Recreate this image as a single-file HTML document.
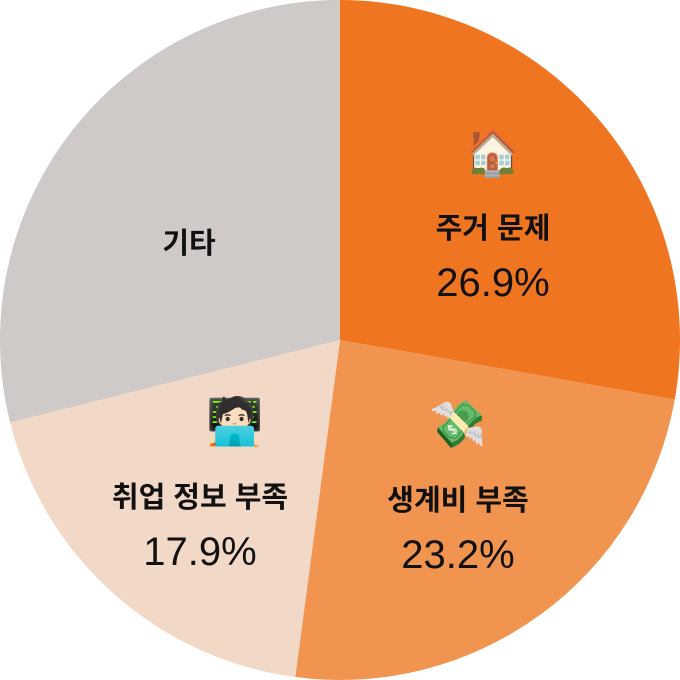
<!DOCTYPE html>
<html><head><meta charset="utf-8"><style>
html,body{margin:0;padding:0;background:#fff;width:680px;height:680px;overflow:hidden}
svg text{font-family:"Liberation Sans","Noto Sans CJK KR",sans-serif;fill:#111;text-anchor:middle}
</style></head><body>
<svg id="chart" width="680" height="680" viewBox="0 0 680 680"></svg>
<script>
const categories = ["주거 문제", "생계비 부족", "취업 정보 부족", "기타"];
const values = [27.8, 24.3, 19.0, 28.9];
const valueLabels = ["26.9%", "23.2%", "17.9%", ""];
const emojis = ["🏠", "💸", "🧑🏻‍💻", ""];
const colors = ["#F07520", "#F09450", "#F2D8C6", "#CFC9C7"];
const labelPos = [[493,228],[458,500],[200,497],[189,243]];
const emojiDx = [0, 0, 35, 0];
const NS = "http://www.w3.org/2000/svg";
const svg = document.getElementById("chart");
const cx = 340, cy = 340, R = 340;
const total = values.reduce((a,b)=>a+b,0);
function pt(frac){const a = frac*2*Math.PI; return [cx+R*Math.sin(a), cy-R*Math.cos(a)];}
let acc = 0;
values.forEach((v,i)=>{
  const s = acc/total, e = (acc+v)/total; acc += v;
  const [x1,y1] = pt(s), [x2,y2] = pt(e);
  const large = (e-s) > 0.5 ? 1 : 0;
  const p = document.createElementNS(NS,"path");
  p.setAttribute("d",`M${cx},${cy} L${x1},${y1} A${R},${R} 0 ${large} 1 ${x2},${y2} Z`);
  p.setAttribute("fill",colors[i]);
  
  
  svg.appendChild(p);
});
values.forEach((v,i)=>{
  const [lx,ly] = labelPos[i];
  if(emojis[i]){
    const em = document.createElementNS(NS,"text");
    em.setAttribute("x",lx+emojiDx[i]); em.setAttribute("y",ly-60);
    em.setAttribute("font-size","46");
    em.textContent = emojis[i];
    
    
    svg.appendChild(em);
  }
  const t = document.createElementNS(NS,"text");
  t.setAttribute("x",lx); t.setAttribute("y",ly+10);
  t.setAttribute("font-size","29"); t.setAttribute("font-weight","bold");
  t.textContent = categories[i];
  
  
  svg.appendChild(t);
  if(valueLabels[i]){
    const t2 = document.createElementNS(NS,"text");
    t2.setAttribute("x",lx); t2.setAttribute("y",ly+68);
    t2.setAttribute("font-size","40");
    t2.textContent = valueLabels[i];
    
    
    svg.appendChild(t2);
  }
});
</script>
</body></html>
